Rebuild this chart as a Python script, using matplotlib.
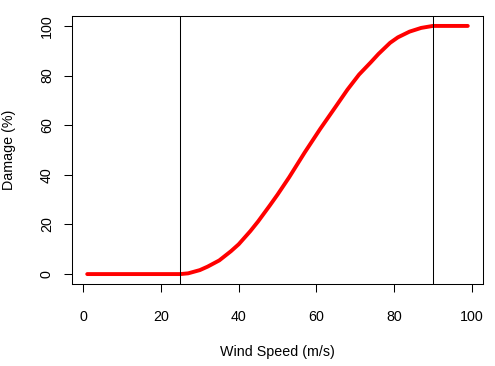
import matplotlib
matplotlib.use("Agg")
import matplotlib.pyplot as plt

# damage curve
wind_speed = [1, 25, 27, 30, 32, 35, 38, 40, 43, 45, 48, 50, 53, 57, 61,
              65, 68, 71, 74, 76, 79, 81, 84, 87, 90, 99]
damage = [0, 0, 0.3, 1.6, 3.0, 5.5, 9.2, 12, 17.3, 21.2, 27.6, 32, 39, 49, 58.5,
          67.5, 74.3, 80.4, 85.3, 88.7, 93.2, 95.4, 97.7, 99.2, 100, 100]
thresholds = [25, 90]
x_ticks = [0, 20, 40, 60, 80, 100]
y_ticks = [0, 20, 40, 60, 80, 100]

plt.rcParams['font.family'] = ['Liberation Sans', 'DejaVu Sans']
plt.rcParams['font.size'] = 10.3

fig = plt.figure(figsize=(4.95, 3.66), dpi=100)
ax = fig.add_axes([72 / 495, 82 / 366, 411 / 495, 268 / 366])

ax.plot(wind_speed, damage, color='#ff0000', lw=2.8, solid_capstyle='round',
        solid_joinstyle='round')
for t in thresholds:
    ax.axvline(t, color='black', lw=0.75)

ax.set_xlim(-2.92, 102.92)
ax.set_ylim(-4, 104)
ax.set_xticks(x_ticks)
ax.set_yticks(y_ticks)

for s in ax.spines.values():
    s.set_linewidth(0.75)

ax.tick_params(axis='both', direction='out', length=6, width=0.75, colors='black')
ax.tick_params(axis='x', pad=13)
ax.tick_params(axis='y', pad=7, labelrotation=90)
for lab in ax.get_yticklabels():
    lab.set_va('center')

ax.set_xlabel('Wind Speed (m/s)', va='center')
ax.xaxis.set_label_coords(0.5, (284 - 351.7) / 268)
ax.set_ylabel('Damage (%)', va='center')
ax.yaxis.set_label_coords((9.5 - 72) / 411, 0.5)

fig.savefig('out.png', dpi=100)
